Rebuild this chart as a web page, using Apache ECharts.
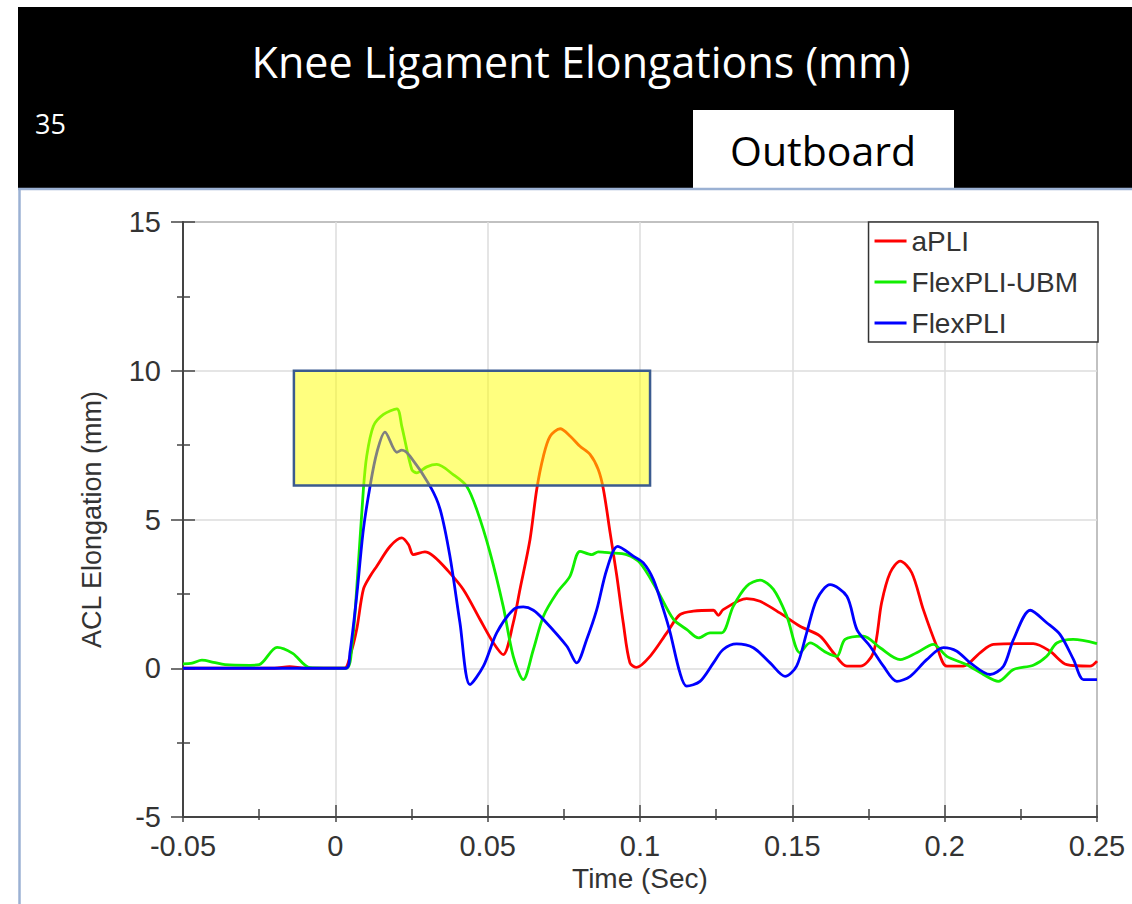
<!DOCTYPE html>
<html><head><meta charset="utf-8">
<script src="https://cdn.jsdelivr.net/npm/echarts@6/dist/echarts.min.js"></script>
<style>html,body{margin:0;padding:0;background:#fff;}#chart{width:1132px;height:904px;}</style>
</head><body><div id="chart"></div>
<script>
// ---- data ----
const seriesNames = ['aPLI', 'FlexPLI-UBM', 'FlexPLI'];
const seriesColors = ['#ff0000', '#11ee00', '#0000ff'];

const aPLITime  = [-0.05, -0.02, -0.015, -0.01, 0.003, 0.0048, 0.007, 0.0092, 0.0114, 0.0136, 0.018, 0.0218, 0.024, 0.0256, 0.0294, 0.0322, 0.0366, 0.042, 0.0475, 0.0519, 0.0551, 0.0584, 0.0606, 0.0639, 0.0661, 0.0683, 0.0705, 0.0738, 0.0771, 0.0803, 0.0836, 0.0863, 0.088, 0.0902, 0.0924, 0.0945, 0.0967, 0.0989, 0.1033, 0.1088, 0.1131, 0.1175, 0.1241, 0.1257, 0.1273, 0.135, 0.1394, 0.1459, 0.1525, 0.1591, 0.1635, 0.1679, 0.1723, 0.1766, 0.1793, 0.1821, 0.1854, 0.1892, 0.193, 0.1974, 0.2007, 0.2061, 0.2116, 0.216, 0.2291, 0.2346, 0.2401, 0.2477, 0.25];
const aPLIValue = [0, 0, 0.05, 0, 0, 0.4, 1.3, 2.65, 3.09, 3.43, 4.1, 4.38, 4.16, 3.82, 3.91, 3.77, 3.32, 2.65, 1.64, 0.85, 0.46, 1.53, 2.65, 4.33, 6.01, 7.13, 7.8, 8.05, 7.8, 7.46, 7.19, 6.68, 6.01, 4.55, 3.09, 1.53, 0.18, 0.03, 0.4, 1.19, 1.8, 1.92, 1.95, 1.78, 1.97, 2.34, 2.25, 1.86, 1.41, 1.08, 0.52, 0.07, 0.07, 0.52, 2.2, 3.21, 3.6, 3.21, 1.97, 0.74, 0.07, 0.07, 0.52, 0.8, 0.83, 0.57, 0.12, 0.07, 0.24];

const ubmTime  = [-0.05, -0.047, -0.0438, -0.04, -0.0362, -0.028, -0.025, -0.0191, -0.014, -0.0083, 0.0035, 0.0055, 0.007, 0.0092, 0.0103, 0.0125, 0.0158, 0.0202, 0.0218, 0.0251, 0.0267, 0.030, 0.0333, 0.0387, 0.0431, 0.0464, 0.0508, 0.0551, 0.0584, 0.0617, 0.065, 0.0683, 0.0727, 0.077, 0.0803, 0.0842, 0.0863, 0.0902, 0.0956, 0.1, 0.1055, 0.111, 0.1154, 0.1192, 0.123, 0.1268, 0.1306, 0.135, 0.1394, 0.1438, 0.1482, 0.1525, 0.1558, 0.1613, 0.1646, 0.1673, 0.1733, 0.1788, 0.1854, 0.1908, 0.1963, 0.2007, 0.2072, 0.2127, 0.2176, 0.2226, 0.2291, 0.2335, 0.2368, 0.2422, 0.25];
const ubmValue = [0.15, 0.17, 0.27, 0.2, 0.12, 0.1, 0.12, 0.7, 0.5, 0.02, 0, 0.8, 2.65, 6.0, 7.13, 8.14, 8.53, 8.72, 8.14, 6.68, 6.57, 6.77, 6.85, 6.51, 6.12, 5.34, 3.88, 2.08, 0.4, -0.38, 0.63, 1.75, 2.53, 3.09, 3.93, 3.82, 3.91, 3.88, 3.82, 3.54, 2.65, 1.64, 1.3, 1.02, 1.19, 1.19, 2.08, 2.76, 2.96, 2.65, 1.75, 0.52, 0.85, 0.52, 0.4, 0.97, 1.08, 0.69, 0.29, 0.52, 0.8, 0.4, 0.12, -0.21, -0.44, -0.04, 0.1, 0.4, 0.85, 0.97, 0.83];

const flexTime  = [-0.05, 0.0035, 0.0048, 0.007, 0.0092, 0.0114, 0.0136, 0.0163, 0.0202, 0.0218, 0.0245, 0.0311, 0.0344, 0.0376, 0.0409, 0.0442, 0.0486, 0.053, 0.0584, 0.0617, 0.065, 0.0683, 0.076, 0.0792, 0.0825, 0.0858, 0.0891, 0.0927, 0.0978, 0.1011, 0.1044, 0.1077, 0.1099, 0.1131, 0.1153, 0.1197, 0.1241, 0.1273, 0.1317, 0.1372, 0.1427, 0.1476, 0.1514, 0.1547, 0.158, 0.1624, 0.1679, 0.1712, 0.1755, 0.1799, 0.1843, 0.1887, 0.1941, 0.1996, 0.204, 0.2084, 0.2149, 0.2193, 0.2226, 0.2281, 0.2335, 0.2379, 0.2423, 0.2456, 0.25];
const flexValue = [0, 0, 0.53, 2.42, 4.66, 6.12, 7.24, 7.94, 7.26, 7.33, 7.13, 6.12, 5.34, 3.77, 1.53, -0.55, 0.07, 1.2, 1.97, 2.06, 1.95, 1.64, 0.74, 0.18, 0.97, 1.97, 3.32, 4.1, 3.77, 3.54, 2.98, 1.97, 1.2, -0.15, -0.6, -0.44, 0.18, 0.63, 0.82, 0.69, 0.18, -0.27, 0.07, 1.19, 2.31, 2.81, 2.42, 1.3, 0.74, 0.07, -0.44, -0.27, 0.29, 0.69, 0.57, 0.18, -0.21, 0.07, 0.97, 1.95, 1.53, 1.13, 0.29, -0.38, -0.38];

const xRange = [-0.05, 0.25];
const yRange = [-5, 15];
const highlightBox = [-0.0136, 0.1033, 6.14, 10]; // x0, x1, y0, y1

const headerTitle = 'Knee Ligament Elongations (mm)';
const slideNumber = '35';
const sideLabel = 'Outboard';
const xAxisName = 'Time (Sec)';
const yAxisName = 'ACL Elongation (mm)';

// ---- chart ----
const pairs = (t, v) => t.map((x, i) => [x, v[i]]);
const lineData = [pairs(aPLITime, aPLIValue), pairs(ubmTime, ubmValue), pairs(flexTime, flexValue)];

const FONT = '"Liberation Sans", Arial, sans-serif';
const HFONT = '"Open Sans", "Noto Sans", sans-serif';
const fmtX = v => String(+v.toFixed(2));

const baseX = {
  type: 'value', min: xRange[0], max: xRange[1], interval: 0.05, position: 'bottom', offset: 0
};
const baseY = {
  type: 'value', min: yRange[0], max: yRange[1], interval: 5, position: 'left', offset: 0
};

const chart = echarts.init(document.getElementById('chart'), null, { renderer: 'svg' });
chart.setOption({
  backgroundColor: '#fff',
  animation: false,
  graphic: [
    { type: 'rect', shape: { x: 18, y: 7, width: 1114, height: 181 }, style: { fill: '#000' }, z: 0 },
    { type: 'rect', shape: { x: 693, y: 110, width: 261, height: 78 }, style: { fill: '#fff' }, z: 1 },
    { type: 'line', shape: { x1: 18, y1: 189, x2: 1132, y2: 189 }, style: { stroke: '#9bb1d3', lineWidth: 2.5 }, z: 1 },
    { type: 'line', shape: { x1: 19.5, y1: 188, x2: 19.5, y2: 904 }, style: { stroke: '#9bb1d3', lineWidth: 2.5 }, z: 1 },
    { type: 'text', x: 581, y: 61, z: 2, style: { text: headerTitle, fill: '#fff', fontSize: 43, fontFamily: HFONT, align: 'center', verticalAlign: 'middle' } },
    { type: 'text', x: 35, y: 123, z: 2, style: { text: slideNumber, fill: '#fff', fontSize: 27, fontFamily: HFONT, align: 'left', verticalAlign: 'middle' } },
    { type: 'text', x: 823, y: 150, z: 2, style: { text: sideLabel, fill: '#000', fontSize: 41, fontFamily: HFONT, align: 'center', verticalAlign: 'middle' } }
  ],
  grid: { left: 183, right: 35, top: 222, bottom: 87, show: true, borderColor: '#444', borderWidth: 1.5, backgroundColor: 'transparent' },
  legend: {
    data: seriesNames.map(n => ({ name: n, icon: 'rect' })),
    orient: 'vertical', right: 34, top: 222,
    backgroundColor: '#fff', borderColor: '#333', borderWidth: 1.5,
    padding: [5, 20, 5, 6], itemGap: 13, itemWidth: 32, itemHeight: 3,
    textStyle: { fontFamily: FONT, fontSize: 28, color: '#333', lineHeight: 26 }
  },
  xAxis: [
    Object.assign({}, baseX, {
      name: xAxisName, nameLocation: 'middle', nameGap: 44,
      nameTextStyle: { fontFamily: FONT, fontSize: 28, color: '#333' },
      axisLine: { show: true, onZero: false, lineStyle: { color: '#444', width: 2 } },
      axisTick: { show: true, inside: false, length: 5, lineStyle: { color: '#444', width: 1.5 } },
      minorTick: { show: true, splitNumber: 2, length: 3, lineStyle: { color: '#444', width: 1.5 } },
      axisLabel: { fontFamily: FONT, fontSize: 29, color: '#333', margin: 14, formatter: fmtX },
      splitLine: { show: true, lineStyle: { color: '#dcdcdc', width: 1.5 } }
    }),
    Object.assign({}, baseX, {
      axisLine: { show: false, onZero: false },
      axisTick: { show: true, inside: true, length: 12, lineStyle: { color: '#444', width: 1.5 } },
      minorTick: { show: true, splitNumber: 2, length: 8, lineStyle: { color: '#444', width: 1.5 } },
      axisLabel: { show: false }, splitLine: { show: false }
    })
  ],
  yAxis: [
    Object.assign({}, baseY, {
      name: yAxisName, nameLocation: 'middle', nameGap: 78,
      nameTextStyle: { fontFamily: FONT, fontSize: 27, color: '#333' },
      axisLine: { show: true, onZero: false, lineStyle: { color: '#444', width: 2 } },
      axisTick: { show: true, inside: false, length: 12, lineStyle: { color: '#444', width: 1.5 } },
      minorTick: { show: true, splitNumber: 2, length: 6, lineStyle: { color: '#444', width: 1.5 } },
      axisLabel: { fontFamily: FONT, fontSize: 29, color: '#333', margin: 22 },
      splitLine: { show: true, lineStyle: { color: '#dcdcdc', width: 1.5 } }
    }),
    Object.assign({}, baseY, {
      axisLine: { show: false, onZero: false },
      axisTick: { show: true, inside: true, length: 12, lineStyle: { color: '#444', width: 1.5 } },
      minorTick: { show: true, splitNumber: 2, length: 7, lineStyle: { color: '#444', width: 1.5 } },
      axisLabel: { show: false }, splitLine: { show: false }
    })
  ],
  series: seriesNames.map((name, i) => ({
    name, type: 'line', xAxisIndex: 0, yAxisIndex: 0, data: lineData[i],
    symbol: 'none', smooth: 0.3, z: 3,
    color: seriesColors[i],
    lineStyle: { color: seriesColors[i], width: 2.8 }
  })).concat([{
    name: 'highlight', type: 'line', xAxisIndex: 0, yAxisIndex: 0, data: [], z: 20,
    markArea: {
      silent: true, z: 20,
      itemStyle: { color: 'rgba(255,255,0,0.5)', borderColor: '#3b5b8f', borderWidth: 2.5 },
      data: [[{ xAxis: highlightBox[0], yAxis: highlightBox[3] }, { xAxis: highlightBox[1], yAxis: highlightBox[2] }]]
    }
  }])
});
</script></body></html>
